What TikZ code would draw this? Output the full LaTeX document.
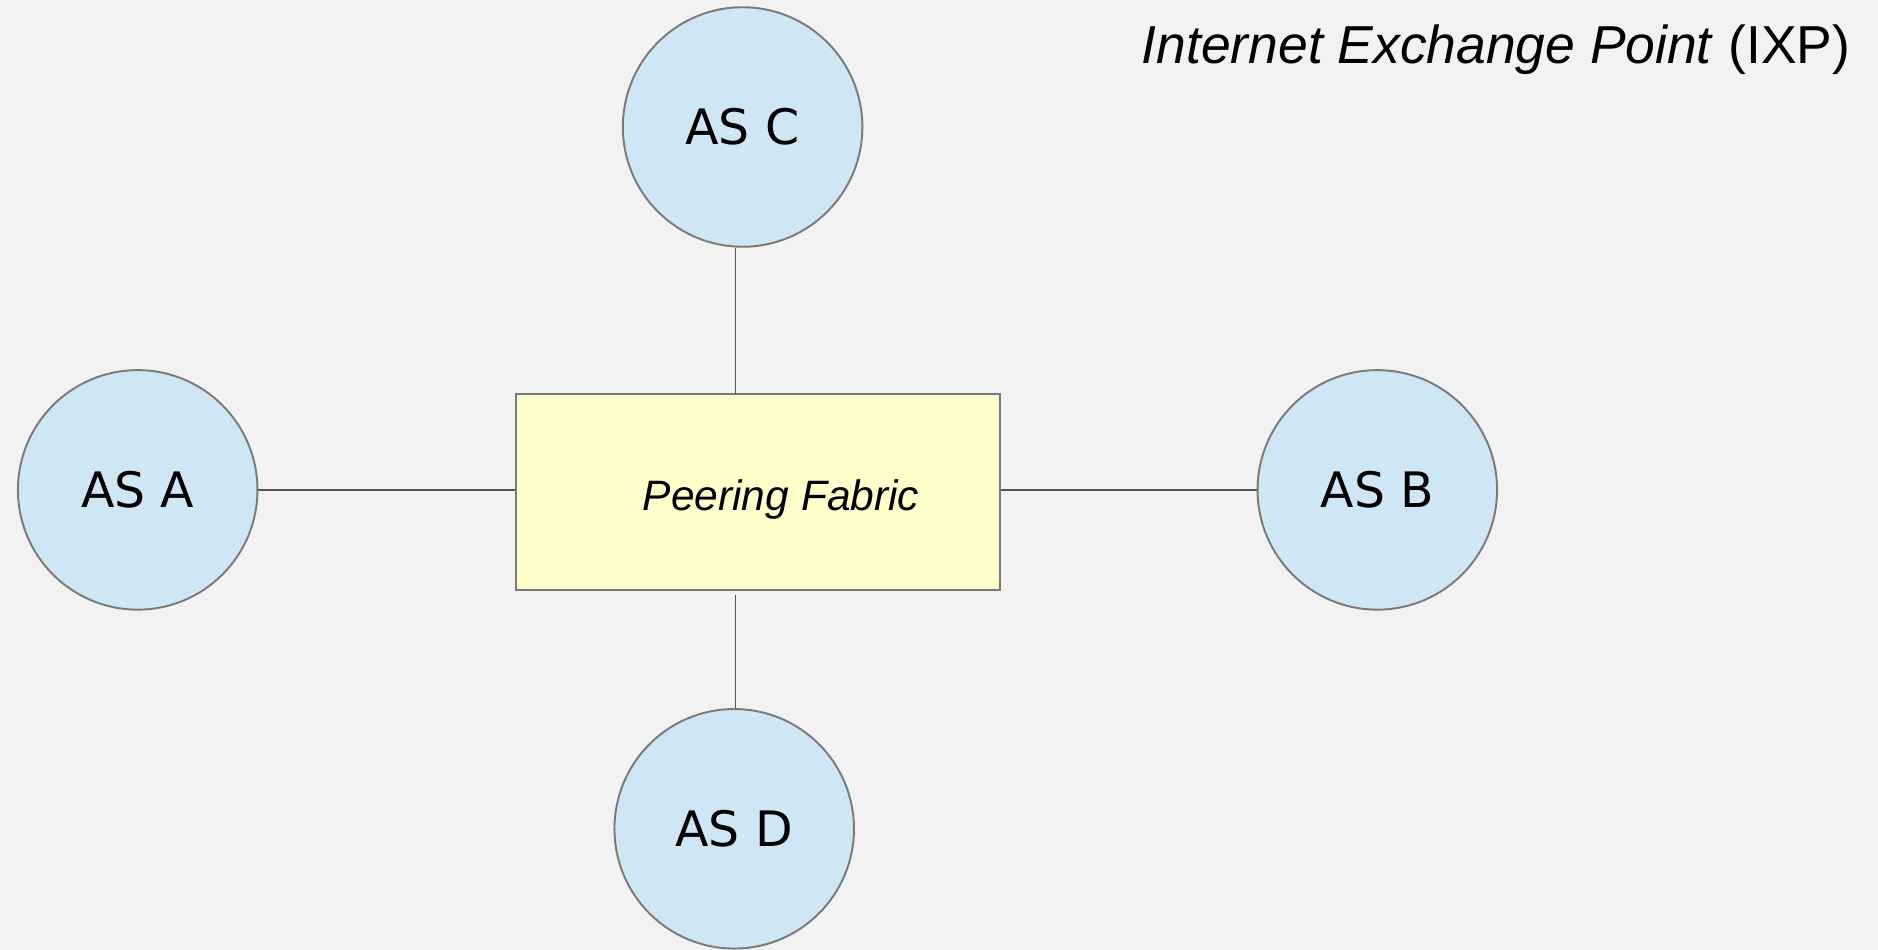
\documentclass[tikz,border=0pt]{standalone}
\usepackage{fontspec}
\setmainfont{Liberation Sans}
\newfontfamily\dejavu{DejaVu Sans}
\definecolor{bg}{HTML}{F2F2F2}
\definecolor{asfill}{HTML}{CFE7F5}
\definecolor{pffill}{HTML}{FFFFCC}
\definecolor{edge}{HTML}{7A7A7A}
\definecolor{conn}{HTML}{555555}
\begin{document}
\begin{tikzpicture}[x=0.1mm,y=-0.1mm,
  asnode/.style={circle,draw=edge,fill=asfill,line width=0.55pt,minimum size=239.5*0.1mm,inner sep=0pt,font=\dejavu\fontsize{13.9}{16}\selectfont},
  fabric/.style={rectangle,draw=edge,fill=pffill,line width=0.55pt,inner sep=0pt,minimum width=483.8*0.1mm,minimum height=196.5*0.1mm},
  conn/.style={draw=conn,line width=0.4pt}]
\fill[bg] (0,0) rectangle (1878,950);
\useasboundingbox (0,0) rectangle (1878,950);
\node[fabric] (PF) at (758.1,492.2) {};
\node[font=\itshape\fontsize{12.1}{14}\selectfont,anchor=base] (PFT) at (781,511) {Peering Fabric};
\node[asnode] (A) at (137.7,489.9) {AS A};
\node[asnode] (B) at (1377.3,489.9) {AS B};
\node[asnode] (C) at (742.6,127) {AS C};
\node[asnode] (D) at (734.2,828.8) {AS D};
\node[anchor=base east,inner sep=0pt,font=\fontsize{15.2}{17}\selectfont] (T) at (1851,64) {\textit{Internet Exchange Point} (IXP)};
\coordinate (top) at (735.4,394);
\coordinate (bot) at (735.4,595);
\draw[conn] (A.east) -- (A.east -| PF.west);
\draw[conn] (B.west -| PF.east) -- (B.west);
\draw[conn] (top) -- (top |- C.south);
\draw[conn] (bot) -- (bot |- D.north);
\end{tikzpicture}
\end{document}
